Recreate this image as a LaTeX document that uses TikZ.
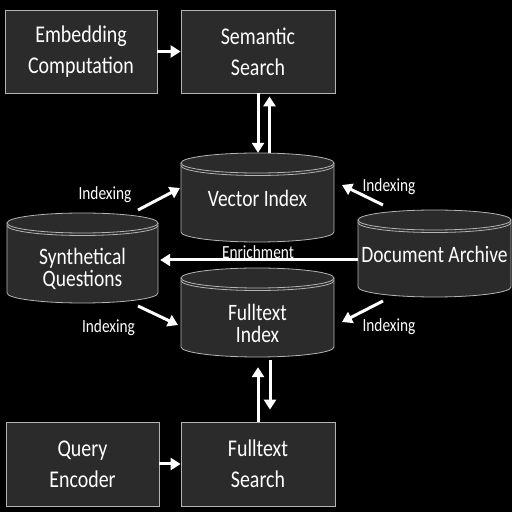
\documentclass[tikz,border=0pt]{standalone}
\usepackage{fontspec}
\setmainfont{Carlito}[FakeStretch=0.83]
\usetikzlibrary{arrows.meta}
\definecolor{boxfill}{HTML}{2B2B2B}
\definecolor{boxline}{HTML}{B4B4B4}
\newcommand{\mycyl}[5]{%
  \node[cylbox, minimum width=#4, minimum height=#5] (#1) at (#2,#3) {};
  \pgfmathsetmacro{\crx}{#4/2}
  \pgfmathsetmacro{\ccl}{#2-#4/2}
  \pgfmathsetmacro{\ccr}{#2+#4/2}
  \pgfmathsetmacro{\cct}{#3+#5/2-10}
  \pgfmathsetmacro{\ccb}{#3-#5/2+10}
  \fill[boxfill] (\ccl,\cct) -- (\ccl,\ccb) arc[start angle=180, end angle=360, x radius=\crx pt, y radius=10pt] -- (\ccr,\cct) -- cycle;
  \draw[boxline, line width=0.8pt] (\ccl,\cct) -- (\ccl,\ccb) arc[start angle=180, end angle=360, x radius=\crx pt, y radius=10pt] -- (\ccr,\cct);
  \filldraw[fill=boxfill, draw=boxline, line width=0.8pt] (#2,\cct) ellipse[x radius=\crx pt, y radius=10pt];
  \draw[boxline, line width=0.8pt] (\ccl,\cct-2.5) arc[start angle=180, end angle=360, x radius=\crx pt, y radius=10pt];
}
\begin{document}
\begin{tikzpicture}[x=1pt,y=1pt,
  box/.style={draw=boxline, line width=0.8pt, fill=boxfill, text=white, align=center,
    font=\fontsize{24}{31}\selectfont, inner sep=0pt},
  cylbox/.style={inner sep=0pt, draw=none},
  cyltext/.style={text=white, align=center, font=\fontsize{23.5}{22}\selectfont, inner sep=0pt},
  lbl/.style={text=white, font=\fontsize{18.5}{20}\selectfont, inner sep=0pt},
  arr/.style={white, line width=3pt, -{Triangle[length=10pt,width=12pt]}}]
\fill[black] (0,0) rectangle (512,512);
\useasboundingbox (0,0) rectangle (512,512);

% boxes
\node[box, minimum width=152, minimum height=83] (emb) at (81,460.5) {Embedding\\Computation};
\node[box, minimum width=154, minimum height=83] (sem) at (258,460.5) {Semantic\\Search};
\node[box, minimum width=153, minimum height=84] (qe) at (82.5,48) {Query\\Encoder};
\node[box, minimum width=154, minimum height=84] (fs) at (258,48) {Fulltext\\Search};

% cylinders
\mycyl{vi}{257.5}{314.5}{153}{89}
\mycyl{sq}{82.5}{254}{151}{90}
\mycyl{fi}{257.5}{199.5}{153}{89}
\mycyl{da}{434.5}{258.5}{153}{87}

\node[cyltext] (vit) at (257.5,313.5) {Vector Index};
\node[cyltext] (sqt) at (82.5,243) {Synthetical\\Questions};
\node[cyltext] (fit) at (257.5,189) {Fulltext\\Index};
\node[cyltext] (dat) at (434.5,257.5) {Document Archive};

% horizontal arrows
\draw[arr] (emb) -- (sem);
\draw[arr] (qe) -- (fs);

% vertical arrows
\draw[arr] (sem.south) -- ([xshift=0.5pt]vi.north);
\draw[arr] ([xshift=12pt]vi.north) -- ([xshift=11.5pt,yshift=-3pt]sem.south);
\draw[arr] (fs.north) -- ([xshift=0.5pt,yshift=-10pt]fi.south);
\draw[arr] ([xshift=12.5pt,yshift=-3pt]fi.south) -- ([xshift=12pt,yshift=12pt]fs.north);

% enrichment
\draw[arr] ([yshift=-6.5pt]da.west) -- ([xshift=2pt,yshift=-2pt]sq.east);
\node[lbl, anchor=base] (enl) at (258,253.7) {Enrichment};

% indexing arrows
\coordinate (a1s) at (138,302); \coordinate (a1e) at (180,324);
\coordinate (a2s) at (138,206); \coordinate (a2e) at (178,187);
\coordinate (a3s) at (383,307); \coordinate (a3e) at (342,327);
\coordinate (a4s) at (383,211); \coordinate (a4e) at (342,190);
\draw[arr] (a1s) -- (a1e);
\draw[arr] (a2s) -- (a2e);
\draw[arr] (a3s) -- (a3e);
\draw[arr] (a4s) -- (a4e);

\node[lbl, anchor=base] (l1) at (105,312) {Indexing};
\node[lbl, anchor=base] (l2) at (108.5,179) {Indexing};
\node[lbl, anchor=base] (l3) at (389,320) {Indexing};
\node[lbl, anchor=base] (l4) at (389,180) {Indexing};
\end{tikzpicture}
\end{document}
